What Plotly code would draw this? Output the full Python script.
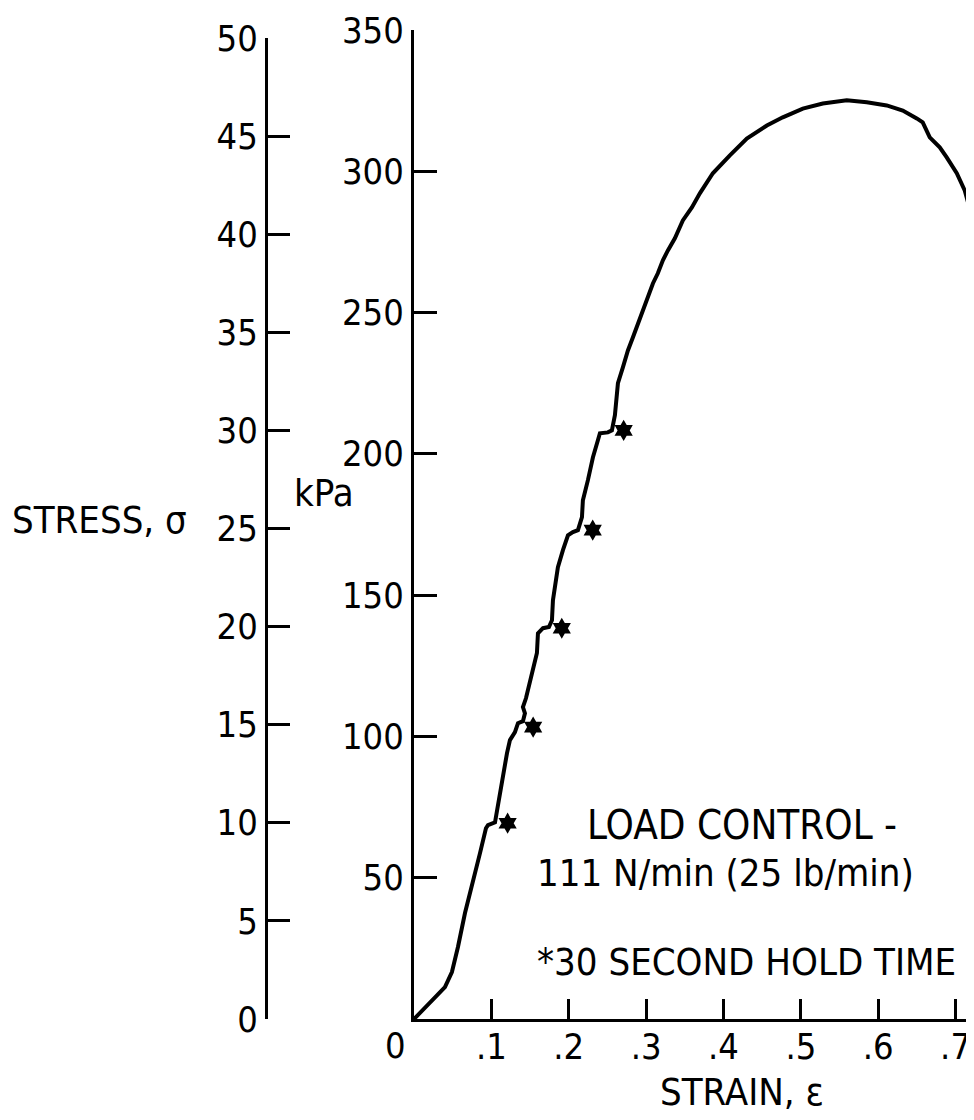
import plotly.graph_objects as go

# stress-strain curve (strain, kPa)
strain = [0, 0.0245, 0.040, 0.049, 0.0568, 0.0659, 0.0749, 0.0853, 0.0930, 0.0956,
          0.1047, 0.1072, 0.1137, 0.1202, 0.1240, 0.1305, 0.1344, 0.1408, 0.1434, 0.1408,
          0.1447, 0.1473, 0.1525, 0.1563, 0.1589, 0.1602, 0.1667, 0.1744, 0.1783, 0.1796,
          0.1835, 0.1860, 0.1925, 0.1990, 0.2054, 0.2119, 0.2171, 0.2183, 0.2248, 0.2313,
          0.2377, 0.2403, 0.2506, 0.2558, 0.2597, 0.2636, 0.2700, 0.2765, 0.2829, 0.2894,
          0.2959, 0.3023, 0.3088, 0.3152, 0.3217, 0.3282, 0.3372, 0.3475, 0.3592, 0.3695,
          0.3863, 0.4083, 0.4302, 0.4561, 0.4767, 0.5026, 0.5284, 0.5594, 0.5853, 0.6111,
          0.6318, 0.6499, 0.6576, 0.6667, 0.6796, 0.6886, 0.7016, 0.7119, 0.7183]
stress_kpa = [0, 6.7, 11.3, 16.6, 25.5, 37.5, 46.7, 58.7, 67.5, 68.6,
              69.6, 73.9, 83.5, 94.1, 98.7, 101.5, 104.7, 105.4, 108.2, 110.4,
              113.5, 116.4, 122.4, 127.7, 129.5, 136.5, 138.3, 138.7, 141.1, 148.2,
              154.2, 159.9, 165.9, 171.2, 172.3, 173.0, 177.6, 183.6, 190.7, 198.8,
              204.8, 207.3, 207.6, 208.3, 213.7, 225.0, 230.6, 236.6, 241.2, 246.2,
              250.8, 255.4, 260.3, 263.9, 268.5, 272.0, 276.3, 282.6, 287.2, 292.2,
              299.3, 305.6, 311.6, 316.2, 319.1, 322.2, 324.0, 325.1, 324.4, 323.3,
              321.5, 318.7, 317.3, 312.0, 308.5, 304.9, 299.3, 293.2, 286.9]

# 30 second hold points
hold_strain = [0.121, 0.154, 0.191, 0.231, 0.271]
hold_kpa = [69.3, 103.3, 138.3, 173.0, 208.3]

x_ticks = [0.1, 0.2, 0.3, 0.4, 0.5, 0.6, 0.7]
x_labels = ['.1', '.2', '.3', '.4', '.5', '.6', '.7']
kpa_ticks = [50, 100, 150, 200, 250, 300, 350]
psi_ticks = [0, 5, 10, 15, 20, 25, 30, 35, 40, 45, 50]

NUM_FONT = 'Liberation Sans Narrow, DejaVu Sans Condensed, sans-serif'
TXT_FONT = 'DejaVu Sans Condensed, DejaVu Sans, sans-serif'

fig = go.Figure()

fig.add_trace(go.Scatter(
    x=strain, y=stress_kpa, mode='lines',
    line=dict(color='black', width=4),
    showlegend=False, hoverinfo='skip'
))

fig.add_trace(go.Scatter(
    x=hold_strain, y=hold_kpa, mode='markers',
    marker=dict(symbol='hexagram', size=16, color='black'),
    showlegend=False, hoverinfo='skip'
))

# empty trace so the psi axis gets its own subplot
fig.add_trace(go.Scatter(x=[], y=[], xaxis='x2', yaxis='y2', showlegend=False))

axis_common = dict(showgrid=False, zeroline=False, showline=True, linecolor='black',
                   linewidth=3, ticks='inside', tickcolor='black', tickwidth=3,
                   tickfont=dict(family=NUM_FONT, size=36, color='black'))

# page body has an 8px margin, so the figure is a bit smaller than the window
fig.update_layout(
    width=966, height=1112,
    paper_bgcolor='white', plot_bgcolor='white',
    margin=dict(l=260, r=3, t=22, b=101),
    xaxis=dict(domain=[0.2077, 1], range=[0, 0.72], tickvals=x_ticks, ticktext=x_labels,
               ticklen=20, ticklabelstandoff=-6, anchor='y', **axis_common),
    yaxis=dict(domain=[0, 1], range=[0, 350], tickvals=kpa_ticks, ticklen=23,
               anchor='x', **axis_common),
    xaxis2=dict(domain=[0, 0.01], range=[0, 1], visible=False, anchor='y2'),
    yaxis2=dict(domain=[0, 0.992], range=[0, 50], tickvals=psi_ticks, ticklen=22,
                anchor='x2', **axis_common),
)

txt = dict(family=TXT_FONT, size=38, color='black')
fig.add_annotation(x=-0.239, y=0.5045, xref='paper', yref='paper', text='STRESS, σ',
                   showarrow=False, font=txt, xanchor='center', yanchor='middle')
fig.add_annotation(x=0.0797, y=0.532, xref='paper', yref='paper', text='kPa',
                   showarrow=False, font=txt, xanchor='center', yanchor='middle')
fig.add_annotation(x=0.182, y=-0.0273, xref='paper', yref='paper', text='0',
                   showarrow=False, font=dict(family=NUM_FONT, size=36, color='black'),
                   xanchor='center', yanchor='middle')
fig.add_annotation(x=0.674, y=-0.0738, xref='paper', yref='paper', text='STRAIN, ε',
                   showarrow=False, font=txt, xanchor='center', yanchor='middle')

fig.add_annotation(x=0.2209, y=68.6, xref='x', yref='y', text='LOAD CONTROL -',
                   showarrow=False, font=dict(family=TXT_FONT, size=40, color='black'),
                   xanchor='left', yanchor='middle')
fig.add_annotation(x=0.1563, y=51.6, xref='x', yref='y', text='111 N/min (25 lb/min)',
                   showarrow=False, font=txt, xanchor='left', yanchor='middle')
fig.add_annotation(x=0.1563, y=20.2, xref='x', yref='y', text='*30 SECOND HOLD TIME',
                   showarrow=False, font=txt, xanchor='left', yanchor='middle')

fig.write_html("out.html")
